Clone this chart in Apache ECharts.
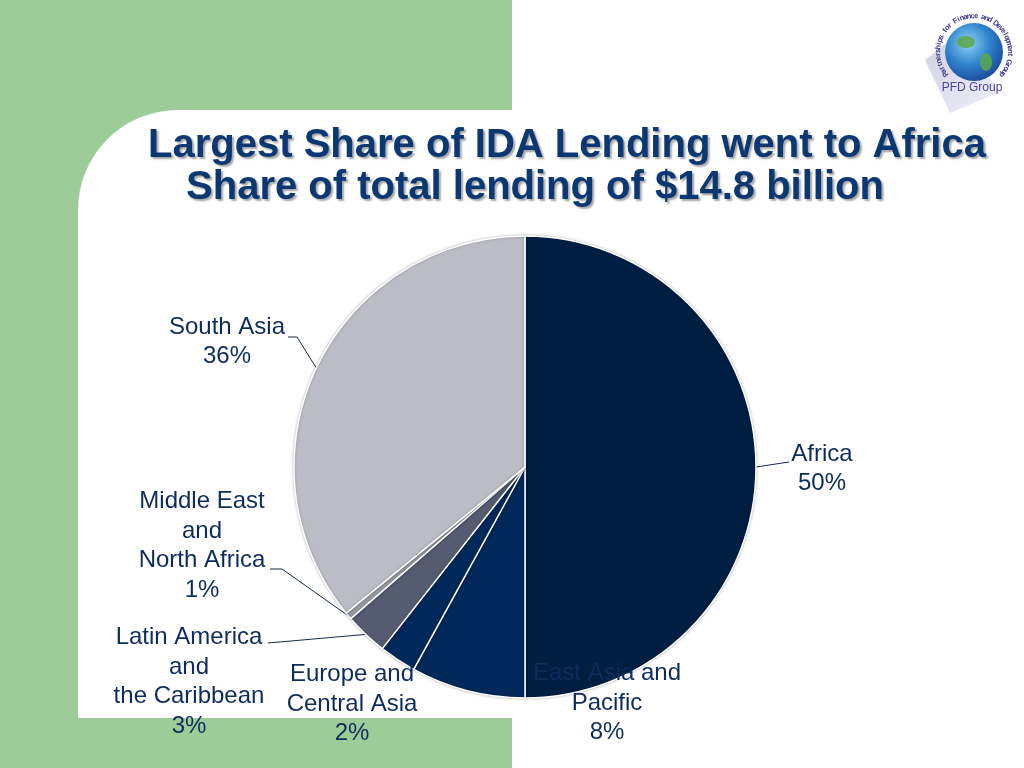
<!DOCTYPE html>
<html>
<head>
<meta charset="utf-8">
<script src="https://cdn.jsdelivr.net/npm/echarts@6/dist/echarts.min.js"></script>
<style>
html,body{margin:0;padding:0;background:#ffffff;}
#chart{width:1024px;height:768px;}
</style>
</head>
<body>
<div id="chart"></div>
<script>
// ---- data ----
const categories = ['Africa', 'East Asia and\nPacific', 'Europe and\nCentral Asia', 'Latin America\nand\nthe Caribbean', 'Middle East\nand\nNorth Africa', 'South Asia'];
const shareValues = [50.0, 8.0, 2.6, 3.0, 0.5, 35.9];
const labelPct = [50, 8, 2, 3, 1, 36];
const titleLine1 = 'Largest Share of IDA Lending went to Africa';
const titleLine2 = 'Share of total lending of $14.8 billion';
const logoArcText = 'Partnerships for Finance and Development Group';
const logoName = 'PFD Group';

// ---- styles / positions ----
const sliceColors = ['#001e42', '#00285a', '#00285a', '#555c72', '#9a9ca8', '#bbbcc5'];
const labelCenters = [[822, 469], [607, 703], [352, 704], [189, 682], [202, 546], [227, 342]];
// leader end (at label) and bend point, per slice; null = no leader
const leaderEnds = [
  [[789, 462], [789, 462]],
  null,
  null,
  [[268, 643], [268, 643]],
  [[270, 569], [282, 569]],
  [[288, 337], [297, 337]]
];
const textColor = '#0d2c5c';

const chart = echarts.init(document.getElementById('chart'), null, {renderer: 'canvas'});

// logo arc text
const logoCx = 974, logoCy = 52, logoR = 36;
const arcStart = 218, arcEnd = -39;
const arcStep = (arcStart - arcEnd) / (logoArcText.length - 1);
const arcEls = logoArcText.split('').map(function (ch, i) {
  const a = (arcStart - i * arcStep) * Math.PI / 180;
  return {
    type: 'text',
    x: logoCx + logoR * Math.cos(a),
    y: logoCy - logoR * Math.sin(a),
    rotation: a - Math.PI / 2,
    z: 10,
    silent: true,
    style: {text: ch, fill: '#3f3a8c', font: 'bold 7.5px "Liberation Sans", Arial, sans-serif', align: 'center', verticalAlign: 'middle'}
  };
});

const graphics = [
  {type: 'rect', z: -10, silent: true, shape: {x: 0, y: 0, width: 512, height: 768}, style: {fill: '#9dcc99'}},
  {type: 'rect', z: -9, silent: true, shape: {x: 78, y: 110, width: 1000, height: 608, r: [100, 0, 0, 0]}, style: {fill: '#ffffff'}},
  {type: 'polygon', z: 5, silent: true, shape: {points: [[925, 60], [958, 34], [1000, 92], [950, 113]]},
    style: {fill: {type: 'linear', x: 0, y: 0, x2: 1, y2: 1, colorStops: [{offset: 0, color: '#cfcfe6'}, {offset: 1, color: '#f0f0f8'}]}}},
  {type: 'circle', z: 6, silent: true, shape: {cx: logoCx, cy: logoCy, r: 29},
    style: {fill: {type: 'radial', x: 0.4, y: 0.35, r: 0.75, colorStops: [{offset: 0, color: '#8fd4f4'}, {offset: 0.5, color: '#2f82cc'}, {offset: 1, color: '#173f8c'}]}}},
  {type: 'ellipse', z: 7, silent: true, shape: {cx: 966, cy: 42, rx: 9, ry: 6}, style: {fill: '#5aa84a', opacity: 0.85}},
  {type: 'ellipse', z: 7, silent: true, shape: {cx: 986, cy: 62, rx: 6, ry: 9}, style: {fill: '#5aa84a', opacity: 0.85}},
  {type: 'text', z: 10, x: 972, y: 88, silent: true, style: {text: logoName, fill: '#4f4397', font: '12px "Liberation Sans", Arial, sans-serif', align: 'center', verticalAlign: 'middle'}}
].concat(arcEls);

const titleStyle = {
  color: '#0b3772', fontSize: 40, fontWeight: 'bold', fontFamily: '"Liberation Sans", Arial, sans-serif',
  textShadowColor: 'rgba(90,90,90,0.55)', textShadowBlur: 2, textShadowOffsetX: 2, textShadowOffsetY: 2
};

const option = {
  backgroundColor: 'transparent',
  animation: false,
  title: [
    {text: titleLine1, left: 567, top: 126, textAlign: 'center', padding: 0, textStyle: titleStyle},
    {text: titleLine2, left: 535, top: 168, textAlign: 'center', padding: 0, textStyle: titleStyle}
  ],
  graphic: graphics,
  series: [{
    type: 'pie',
    center: [525, 467],
    radius: [0, 231],
    startAngle: 90,
    clockwise: true,
    avoidLabelOverlap: false,
    itemStyle: {borderColor: '#ffffff', borderWidth: 1.5, shadowBlur: 3, shadowColor: 'rgba(0,0,0,0.25)'},
    label: {
      show: true,
      color: textColor,
      fontSize: 24,
      lineHeight: 29.5,
      fontFamily: '"Liberation Sans", Arial, sans-serif',
      align: 'center',
      formatter: function (p) { return p.name + '\n' + labelPct[p.dataIndex] + '%'; }
    },
    labelLine: {show: true, lineStyle: {color: '#1a2a4a', width: 1}, length: 10, length2: 8},
    labelLayout: function (p) {
      const i = p.dataIndex;
      const c = labelCenters[i];
      const res = {x: c[0], y: c[1], align: 'center', verticalAlign: 'middle'};
      const le = leaderEnds[i];
      if (le && p.labelLinePoints) {
        const start = p.labelLinePoints[0];
        res.labelLinePoints = [[start[0], start[1]], le[1], le[0]];
      }
      return res;
    },
    emphasis: {disabled: true},
    data: categories.map(function (name, i) {
      return {name: name, value: shareValues[i], itemStyle: {color: sliceColors[i]}, labelLine: {show: leaderEnds[i] !== null}};
    })
  }]
};
chart.setOption(option);
</script>
</body>
</html>
